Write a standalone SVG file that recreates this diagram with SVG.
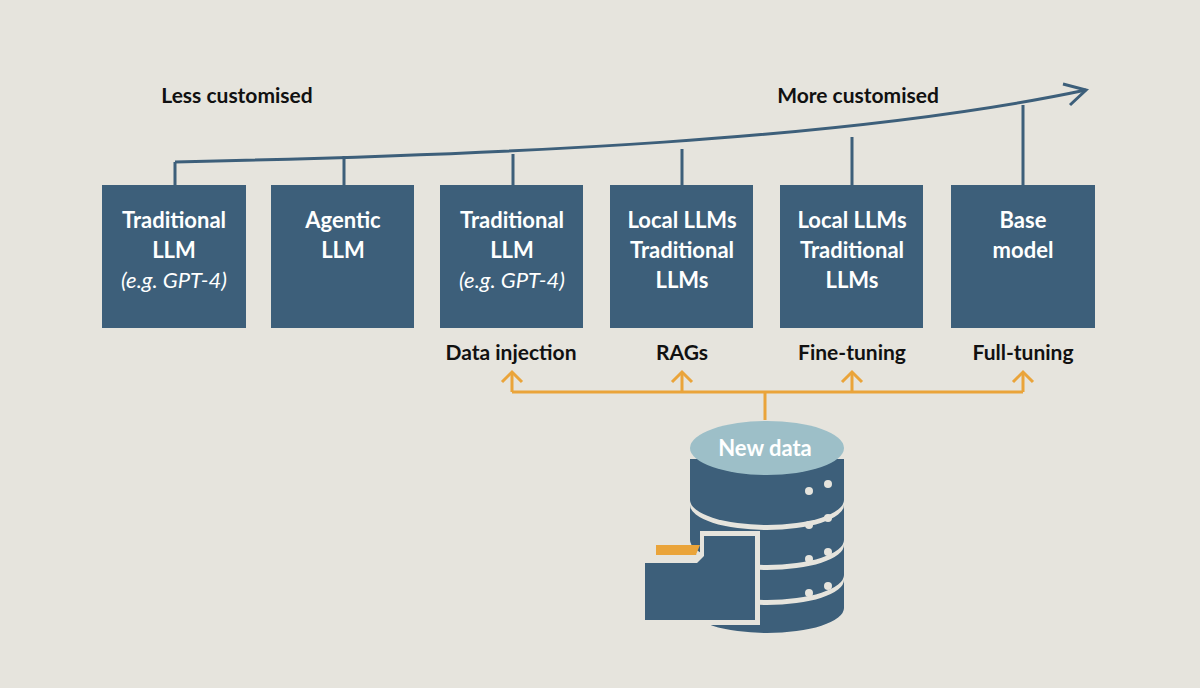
<svg xmlns="http://www.w3.org/2000/svg" width="1200" height="688" viewBox="0 0 1200 688">
<style>
.box{fill:#3d5f7a}
.bt{font-family:"Lato","Open Sans",sans-serif;font-weight:bold;font-size:22px;fill:#fff;text-anchor:middle}
.it{font-style:italic;font-weight:normal}
.lb{font-family:"Lato","Open Sans",sans-serif;font-weight:bold;font-size:21px;fill:#111;text-anchor:middle}
.bl{stroke:#3d5f7a;stroke-width:3;fill:none}
.or{stroke:#eaa43a;stroke-width:3;fill:none}
.dot{fill:#e6e4dd}
</style>
<rect width="1200" height="688" fill="#e6e4dd"/>
<text class="lb" x="237" y="103">Less customised</text>
<text class="lb" x="858" y="103">More customised</text>
<g id="connectors">
<path class="bl" d="M175,162 C500,155 850,140 1086,90"/>
<path class="bl" d="M1063,84 L1086,90 L1070,105"/>
<path class="bl" d="M175,162V185M344,156V185M513,154V185M682,149V185M852,137V185M1023,105V185"/>
<path class="or" d="M512,392H1023M765,392V420M512,392V372M682,392V372M852,392V372M1023,392V372"/>
<path class="or" d="M502,382L512,372L522,382M672,382L682,372L692,382M842,382L852,372L862,382M1013,382L1023,372L1033,382"/>
</g>
<g id="n1"><rect class="box" x="102" y="185" width="144" height="143"/><text class="bt" x="174" y="228">Traditional</text><text class="bt" x="174" y="258">LLM</text><text class="bt it" x="174" y="288">(e.g. GPT-4)</text></g>
<g id="n2"><rect class="box" x="271" y="185" width="143" height="143"/><text class="bt" x="343" y="228">Agentic</text><text class="bt" x="343" y="258">LLM</text></g>
<g id="n3"><rect class="box" x="440" y="185" width="143" height="143"/><text class="bt" x="512" y="228">Traditional</text><text class="bt" x="512" y="258">LLM</text><text class="bt it" x="512" y="288">(e.g. GPT-4)</text></g>
<g id="n4"><rect class="box" x="610" y="185" width="143" height="143"/><text class="bt" x="682" y="228">Local LLMs</text><text class="bt" x="682" y="258">Traditional</text><text class="bt" x="682" y="288">LLMs</text></g>
<g id="n5"><rect class="box" x="780" y="185" width="143" height="143"/><text class="bt" x="852" y="228">Local LLMs</text><text class="bt" x="852" y="258">Traditional</text><text class="bt" x="852" y="288">LLMs</text></g>
<g id="n6"><rect class="box" x="951" y="185" width="144" height="143"/><text class="bt" x="1023" y="228">Base</text><text class="bt" x="1023" y="258">model</text></g>
<text class="lb" x="511" y="360">Data injection</text>
<text class="lb" x="682" y="360">RAGs</text>
<text class="lb" x="852" y="360">Fine-tuning</text>
<text class="lb" x="1023" y="360">Full-tuning</text>
<g id="db">
<path class="box" d="M690,459V500A77,25 0 0 0 844,500V459Z"/>
<path class="box" d="M690,505V540A77,25 0 0 0 844,540V505A77,25 0 0 1 690,505Z"/>
<path class="box" d="M690,545V575A77,25 0 0 0 844,575V545A77,25 0 0 1 690,545Z"/>
<path class="box" d="M690,580V608A77,25 0 0 0 844,608V580A77,25 0 0 1 690,580Z"/>
<ellipse cx="767" cy="448" rx="77" ry="27" fill="#9dbfc8"/>
<text class="bt" x="765" y="456">New data</text>
<circle class="dot" cx="809" cy="491" r="4"/><circle class="dot" cx="828" cy="484" r="4"/>
<circle class="dot" cx="809" cy="525" r="4"/><circle class="dot" cx="828" cy="518" r="4"/>
<circle class="dot" cx="809" cy="559" r="4"/><circle class="dot" cx="828" cy="552" r="4"/>
<circle class="dot" cx="809" cy="593" r="4"/><circle class="dot" cx="828" cy="586" r="4"/>
<path d="M656,545H700L695,557H656Z" fill="#eaa43a"/>
<path d="M700,531H760V625H640V555H700Z" fill="#e6e4dd"/>
<path class="box" d="M704,536H755V620H645V563H697L704,556Z"/>
</g>
</svg>
